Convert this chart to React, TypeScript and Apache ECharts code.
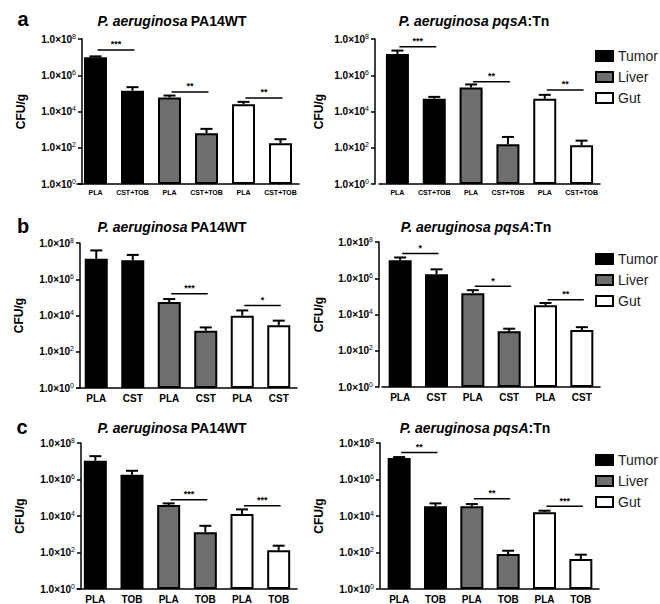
import React, { useEffect, useRef } from 'react';
import * as echarts from 'echarts';

// ---------------- data ----------------
const groups = ['Tumor', 'Tumor', 'Liver', 'Liver', 'Gut', 'Gut'];
const seriesNames = ['Tumor', 'Liver', 'Gut'];
const groupColors = ['#000000', '#6e6e6e', '#ffffff'];

const catsA = ['PLA', 'CST+TOB', 'PLA', 'CST+TOB', 'PLA', 'CST+TOB'];
const catsB = ['PLA', 'CST', 'PLA', 'CST', 'PLA', 'CST'];
const catsC = ['PLA', 'TOB', 'PLA', 'TOB', 'PLA', 'TOB'];

const yTickExponents = [0, 2, 4, 6, 8];

// means and upper error-bar ends (CFU/g)
const aLeftMeans = [1.0e7, 1.4e5, 5.9e4, 630, 2.5e4, 178];
const aLeftErr = [1.1e7, 2.2e5, 7.6e4, 1100, 3.4e4, 295];
const aRightMeans = [1.5e7, 5.0e4, 2.1e5, 156, 5.0e4, 137];
const aRightErr = [2.3e7, 6.4e4, 3.1e5, 395, 8.3e4, 247];
const bLeftMeans = [1.35e7, 1.1e7, 5.5e4, 1450, 9.8e3, 2.9e3];
const bLeftErr = [3.9e7, 2.2e7, 8.1e4, 2200, 1.9e4, 5.2e3];
const bRightMeans = [9.8e6, 1.65e6, 1.5e5, 1200, 3.2e4, 1400];
const bRightErr = [1.4e7, 3.1e6, 2.2e5, 1650, 4.3e4, 2000];
const cLeftMeans = [1.07e7, 1.8e6, 4.0e4, 1300, 1.3e4, 131];
const cLeftErr = [1.9e7, 3.0e6, 4.9e4, 2900, 2.3e4, 236];
const cRightMeans = [1.5e7, 3.4e4, 3.4e4, 83, 1.6e4, 44];
const cRightErr = [1.7e7, 4.9e4, 4.5e4, 125, 1.95e4, 76];

// significance brackets: [fromIndex, toIndex, level (CFU/g), stars]
const aLeftSig: [number, number, number, string][] = [[0, 1, 2.5e7, '***'], [2, 3, 1.2e5, '**'], [4, 5, 5.6e4, '**']];
const aRightSig: [number, number, number, string][] = [[0, 1, 3.7e7, '***'], [2, 3, 4.4e5, '**'], [4, 5, 1.55e5, '**']];
const bLeftSig: [number, number, number, string][] = [[2, 3, 1.6e5, '***'], [4, 5, 3.6e4, '*']];
const bRightSig: [number, number, number, string][] = [[0, 1, 2.3e7, '*'], [2, 3, 3.6e5, '*'], [4, 5, 6.6e4, '**']];
const cLeftSig: [number, number, number, string][] = [[2, 3, 7.8e4, '***'], [4, 5, 3.6e4, '***']];
const cRightSig: [number, number, number, string][] = [[0, 1, 3.0e7, '**'], [2, 3, 8.9e4, '**'], [4, 5, 3.4e4, '***']];

const titleLeft = '{i|P. aeruginosa} {b|PA14WT}';
const titleRight = '{i|P. aeruginosa pqsA}{b|:Tn}';
const panelLetters = ['a', 'b', 'c'];

// ---------------- layout ----------------
const FONT = '"Liberation Sans", Arial, Helvetica, sans-serif';

const panels = [
  { cats: catsA, means: aLeftMeans, err: aLeftErr, sig: aLeftSig, grid: { left: 77, top: 39, width: 222, height: 145 }, offset: -5, xFont: 7, nameGap: 55 },
  { cats: catsA, means: aRightMeans, err: aRightErr, sig: aRightSig, grid: { left: 379, top: 39, width: 221, height: 145 }, offset: 4, xFont: 7, nameGap: 50 },
  { cats: catsB, means: bLeftMeans, err: bLeftErr, sig: bLeftSig, grid: { left: 78, top: 243, width: 219, height: 145 }, offset: -2, xFont: 10, nameGap: 55 },
  { cats: catsB, means: bRightMeans, err: bRightErr, sig: bRightSig, grid: { left: 382, top: 242, width: 218, height: 145 }, offset: 3, xFont: 10, nameGap: 54 },
  { cats: catsC, means: cLeftMeans, err: cLeftErr, sig: cLeftSig, grid: { left: 77, top: 443, width: 220, height: 146 }, offset: -4, xFont: 10, nameGap: 55 },
  { cats: catsC, means: cRightMeans, err: cRightErr, sig: cRightSig, grid: { left: 381, top: 443, width: 218, height: 146 }, offset: 1, xFont: 10, nameGap: 55 },
];

const titlePos = [
  [172, 21], [474, 21],
  [172, 227], [476, 227],
  [172, 428], [475, 428],
];
const letterPos = [[23, 19], [23, 226], [22, 427]];
const legendTops = [44, 247, 448];

function buildOption() {
  const grid: any[] = [];
  const xAxis: any[] = [];
  const yAxis: any[] = [];
  const series: any[] = [];

  panels.forEach((p, pi) => {
    grid.push({ ...p.grid, containLabel: false });
    xAxis.push({
      type: 'category',
      gridIndex: pi,
      data: p.cats,
      axisLine: { lineStyle: { color: '#000', width: 1.5 } },
      axisTick: { alignWithLabel: true, length: 3, lineStyle: { color: '#000', width: 1.5 } },
      axisLabel: { interval: 0, color: '#000', fontWeight: 'bold', fontSize: p.xFont, fontFamily: FONT, margin: 5 },
    });
    yAxis.push({
      type: 'log',
      logBase: 10,
      gridIndex: pi,
      min: 1,
      max: 1e8,
      interval: 2,
      offset: p.offset,
      name: 'CFU/g',
      nameLocation: 'middle',
      nameRotate: 90,
      nameGap: p.nameGap,
      nameTextStyle: { fontWeight: 'bold', fontSize: 12, color: '#000', fontFamily: FONT },
      splitLine: { show: false },
      axisLine: { show: true, lineStyle: { color: '#000', width: 1.5 } },
      axisTick: { show: true, length: 4, lineStyle: { color: '#000', width: 1.5 } },
      axisLabel: {
        color: '#000',
        margin: 6,
        formatter: (v: number) => {
          const e = Math.round(Math.log10(v));
          return yTickExponents.indexOf(e) >= 0 ? `{a|1.0×10}{s|${e}}` : '';
        },
        rich: {
          a: { fontSize: 10, fontWeight: 'bold', fontFamily: FONT, color: '#000', lineHeight: 13 },
          s: { fontSize: 7, fontFamily: FONT, color: '#000', verticalAlign: 'top', lineHeight: 8 },
        },
      },
    });

    seriesNames.forEach((g, gi) => {
      series.push({
        name: g,
        type: 'bar',
        xAxisIndex: pi,
        yAxisIndex: pi,
        barWidth: 23,
        barGap: '-100%',
        data: p.means.map((v, i) => (groups[i] === g ? v : '-')),
        itemStyle: { color: groupColors[gi], borderColor: '#000', borderWidth: 2 },
        z: 2,
      });
    });

    series.push({
      type: 'custom',
      xAxisIndex: pi,
      yAxisIndex: pi,
      z: 3,
      silent: true,
      encode: { x: 0, y: [1, 2] },
      data: p.means.map((m, i) => [i, m, p.err[i]]),
      renderItem: (params: any, api: any) => {
        const x = api.value(0);
        const p1 = api.coord([x, api.value(1)]);
        const p2 = api.coord([x, api.value(2)]);
        const w = 6;
        return {
          type: 'group',
          children: [
            { type: 'line', shape: { x1: p1[0], y1: p1[1], x2: p2[0], y2: p2[1] }, style: { stroke: '#000', lineWidth: 2 } },
            { type: 'line', shape: { x1: p2[0] - w, y1: p2[1], x2: p2[0] + w, y2: p2[1] }, style: { stroke: '#000', lineWidth: 2 } },
          ],
        };
      },
    });

    const sig = p.sig;
    series.push({
      type: 'custom',
      xAxisIndex: pi,
      yAxisIndex: pi,
      z: 3,
      silent: true,
      encode: { x: [0, 1], y: 2 },
      data: sig.map((s) => [s[0], s[1], s[2]]),
      renderItem: (params: any, api: any) => {
        const a = api.coord([api.value(0), api.value(2)]);
        const b = api.coord([api.value(1), api.value(2)]);
        const label = sig[params.dataIndex][3];
        return {
          type: 'group',
          children: [
            { type: 'line', shape: { x1: a[0] + 2, y1: a[1], x2: b[0] + 2, y2: b[1] }, style: { stroke: '#000', lineWidth: 1.5 } },
            {
              type: 'text',
              x: (a[0] + b[0]) / 2 + 2,
              y: a[1] - 1,
              style: { text: label, fill: '#000', font: `bold 9px ${FONT}`, align: 'center', verticalAlign: 'bottom' },
            },
          ],
        };
      },
    });
  });

  const graphic: any[] = [];
  titlePos.forEach((pos, i) => {
    graphic.push({
      type: 'text',
      x: pos[0],
      y: pos[1],
      silent: true,
      style: {
        text: i % 2 === 0 ? titleLeft : titleRight,
        align: 'center',
        verticalAlign: 'middle',
        rich: {
          i: { fontSize: 14, fontWeight: 'bold', fontStyle: 'italic', fontFamily: FONT, fill: '#000' },
          b: { fontSize: 14, fontWeight: 'bold', fontFamily: FONT, fill: '#000' },
        },
      },
    });
  });
  letterPos.forEach((pos, i) => {
    graphic.push({
      type: 'text',
      x: pos[0],
      y: pos[1],
      silent: true,
      style: { text: panelLetters[i], align: 'center', verticalAlign: 'middle', font: `bold 20px ${FONT}`, fill: '#000' },
    });
  });

  const legend = legendTops.map((top) => ({
    data: seriesNames,
    orient: 'vertical',
    left: 590,
    top,
    itemWidth: 17,
    itemHeight: 10,
    itemGap: 7,
    icon: 'rect',
    selectedMode: false,
    textStyle: { fontSize: 14, color: '#222', fontFamily: FONT },
  }));

  return {
    animation: false,
    backgroundColor: '#fff',
    grid,
    xAxis,
    yAxis,
    series,
    legend,
    graphic,
  };
}

export default function App() {
  const ref = useRef<HTMLDivElement>(null);
  useEffect(() => {
    if (!ref.current) return;
    const chart = echarts.init(ref.current, undefined, { renderer: 'svg' });
    chart.setOption(buildOption() as any);
    return () => chart.dispose();
  }, []);
  return <div ref={ref} style={{ position: 'fixed', left: 0, top: 0, width: 660, height: 604 }} />;
}
